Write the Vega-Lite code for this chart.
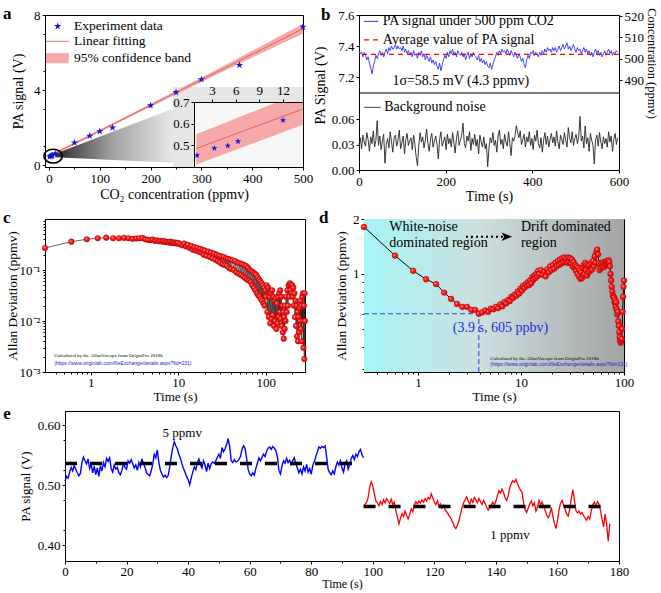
{
"$schema":"https://vega.github.io/schema/vega-lite/v6.json",
"background":"white",
"padding":{"left":2,"top":4,"right":0,"bottom":0},
"config":{"font":"Liberation Serif","view":{"stroke":"black","strokeWidth":1},
"axis":{"grid":false,"labelFont":"Liberation Serif","titleFont":"Liberation Serif","labelFontSize":13,"titleFontSize":14,"titleFontWeight":"normal","labelColor":"black","titleColor":"black","domainColor":"black","tickColor":"black","tickSize":3,"labelPadding":2,"titlePadding":3,"labelFlush":false},
"axisX":{"titleFontWeight":"normal","labelFont":"Liberation Serif","titleFont":"Liberation Serif"},
"axisY":{"titleFontWeight":"normal","labelFont":"Liberation Serif","titleFont":"Liberation Serif"},
"text":{"font":"Liberation Serif"}},
"datasets":{
"apts":[{"x":1.1,"y":0.455},{"x":3.3,"y":0.485},{"x":5,"y":0.497},{"x":6.3,"y":0.517},{"x":12,"y":0.615},{"x":50,"y":1.2},{"x":80,"y":1.56},{"x":100,"y":1.8},{"x":125,"y":2.0},{"x":200,"y":3.18},{"x":250,"y":3.88},{"x":300,"y":4.57},{"x":375,"y":5.33},{"x":500,"y":7.37}],
"aband":[{"x":0,"lo":0.4,"hi":0.54,"f":0.47},{"x":50,"lo":1.08,"hi":1.22,"f":1.15},{"x":100,"lo":1.76,"hi":1.9,"f":1.83},{"x":150,"lo":2.44,"hi":2.58,"f":2.51},{"x":200,"lo":3.11,"hi":3.27,"f":3.19},{"x":250,"lo":3.77,"hi":3.97,"f":3.87},{"x":300,"lo":4.43,"hi":4.67,"f":4.55},{"x":350,"lo":5.08,"hi":5.38,"f":5.23},{"x":400,"lo":5.73,"hi":6.09,"f":5.91},{"x":450,"lo":6.37,"hi":6.81,"f":6.59},{"x":500,"lo":7.0,"hi":7.54,"f":7.27}],
"bsig":[{"t":0,"v":7.37},{"t":3,"v":7.35},{"t":6,"v":7.36},{"t":9,"v":7.33},{"t":12,"v":7.36},{"t":15,"v":7.34},{"t":18,"v":7.31},{"t":21,"v":7.33},{"t":24,"v":7.29},{"t":27,"v":7.26},
{"t":30,"v":7.22},{"t":33,"v":7.27},{"t":36,"v":7.3},{"t":39,"v":7.34},{"t":42,"v":7.32},{"t":45,"v":7.35},{"t":48,"v":7.37},{"t":51,"v":7.34},{"t":54,"v":7.36},{"t":57,"v":7.33},
{"t":60,"v":7.36},{"t":63,"v":7.38},{"t":66,"v":7.35},{"t":69,"v":7.39},{"t":72,"v":7.37},{"t":75,"v":7.4},{"t":78,"v":7.38},{"t":81,"v":7.39},{"t":84,"v":7.41},{"t":87,"v":7.38},
{"t":90,"v":7.4},{"t":93,"v":7.38},{"t":96,"v":7.39},{"t":99,"v":7.37},{"t":102,"v":7.4},{"t":105,"v":7.36},{"t":108,"v":7.38},{"t":111,"v":7.35},{"t":114,"v":7.37},{"t":117,"v":7.34},
{"t":120,"v":7.36},{"t":123,"v":7.33},{"t":126,"v":7.37},{"t":129,"v":7.34},{"t":132,"v":7.35},{"t":135,"v":7.32},{"t":138,"v":7.36},{"t":141,"v":7.34},{"t":144,"v":7.37},{"t":147,"v":7.33},
{"t":150,"v":7.35},{"t":153,"v":7.31},{"t":156,"v":7.34},{"t":159,"v":7.32},{"t":162,"v":7.3},{"t":165,"v":7.33},{"t":168,"v":7.29},{"t":171,"v":7.31},{"t":174,"v":7.28},{"t":177,"v":7.3},
{"t":180,"v":7.27},{"t":183,"v":7.25},{"t":186,"v":7.29},{"t":189,"v":7.24},{"t":192,"v":7.28},{"t":195,"v":7.31},{"t":198,"v":7.34},{"t":201,"v":7.32},{"t":204,"v":7.36},{"t":207,"v":7.33},
{"t":210,"v":7.37},{"t":213,"v":7.35},{"t":216,"v":7.38},{"t":219,"v":7.34},{"t":222,"v":7.36},{"t":225,"v":7.33},{"t":228,"v":7.37},{"t":231,"v":7.35},{"t":234,"v":7.34},{"t":237,"v":7.36},
{"t":240,"v":7.33},{"t":243,"v":7.35},{"t":246,"v":7.31},{"t":249,"v":7.34},{"t":252,"v":7.36},{"t":255,"v":7.32},{"t":258,"v":7.35},{"t":261,"v":7.33},{"t":264,"v":7.36},{"t":267,"v":7.34},
{"t":270,"v":7.33},{"t":273,"v":7.31},{"t":276,"v":7.34},{"t":279,"v":7.3},{"t":282,"v":7.32},{"t":285,"v":7.29},{"t":288,"v":7.31},{"t":291,"v":7.28},{"t":294,"v":7.3},{"t":297,"v":7.27},
{"t":300,"v":7.26},{"t":303,"v":7.29},{"t":306,"v":7.25},{"t":309,"v":7.28},{"t":312,"v":7.31},{"t":315,"v":7.33},{"t":318,"v":7.36},{"t":321,"v":7.34},{"t":324,"v":7.37},{"t":327,"v":7.35},
{"t":330,"v":7.38},{"t":333,"v":7.36},{"t":336,"v":7.37},{"t":339,"v":7.35},{"t":342,"v":7.38},{"t":345,"v":7.36},{"t":348,"v":7.34},{"t":351,"v":7.37},{"t":354,"v":7.35},{"t":357,"v":7.33},
{"t":360,"v":7.36},{"t":363,"v":7.34},{"t":366,"v":7.32},{"t":369,"v":7.35},{"t":372,"v":7.33},{"t":375,"v":7.3},{"t":378,"v":7.32},{"t":381,"v":7.28},{"t":384,"v":7.26},{"t":387,"v":7.31},
{"t":390,"v":7.34},{"t":393,"v":7.32},{"t":396,"v":7.36},{"t":399,"v":7.35},{"t":402,"v":7.37},{"t":405,"v":7.34},{"t":408,"v":7.36},{"t":411,"v":7.35},{"t":414,"v":7.33},{"t":417,"v":7.36},
{"t":420,"v":7.34},{"t":423,"v":7.37},{"t":426,"v":7.35},{"t":429,"v":7.38},{"t":432,"v":7.36},{"t":435,"v":7.39},{"t":438,"v":7.37},{"t":441,"v":7.38},{"t":444,"v":7.36},{"t":447,"v":7.39},
{"t":450,"v":7.37},{"t":453,"v":7.39},{"t":456,"v":7.36},{"t":459,"v":7.38},{"t":462,"v":7.4},{"t":465,"v":7.37},{"t":468,"v":7.39},{"t":471,"v":7.41},{"t":474,"v":7.38},{"t":477,"v":7.4},
{"t":480,"v":7.42},{"t":483,"v":7.38},{"t":486,"v":7.4},{"t":489,"v":7.37},{"t":492,"v":7.39},{"t":495,"v":7.41},{"t":498,"v":7.38},{"t":501,"v":7.36},{"t":504,"v":7.39},{"t":507,"v":7.37},
{"t":510,"v":7.38},{"t":513,"v":7.35},{"t":516,"v":7.37},{"t":519,"v":7.39},{"t":522,"v":7.36},{"t":525,"v":7.38},{"t":528,"v":7.35},{"t":531,"v":7.37},{"t":534,"v":7.34},{"t":537,"v":7.36},
{"t":540,"v":7.33},{"t":543,"v":7.36},{"t":546,"v":7.38},{"t":549,"v":7.35},{"t":552,"v":7.37},{"t":555,"v":7.34},{"t":558,"v":7.36},{"t":561,"v":7.33},{"t":564,"v":7.35},{"t":567,"v":7.37},
{"t":570,"v":7.34},{"t":573,"v":7.36},{"t":576,"v":7.38},{"t":579,"v":7.35},{"t":582,"v":7.37},{"t":585,"v":7.34},{"t":588,"v":7.36},{"t":591,"v":7.35},{"t":594,"v":7.37},{"t":597,"v":7.36}],
"bnoise":[{"t":0,"v":0.03},{"t":3,"v":0.038},{"t":6,"v":0.025},{"t":9,"v":0.041},{"t":12,"v":0.033},{"t":15,"v":0.028},{"t":18,"v":0.044},{"t":21,"v":0.036},{"t":24,"v":0.022},{"t":27,"v":0.039},
{"t":30,"v":0.031},{"t":33,"v":0.046},{"t":36,"v":0.027},{"t":39,"v":0.035},{"t":42,"v":0.058},{"t":45,"v":0.029},{"t":48,"v":0.04},{"t":51,"v":0.024},{"t":54,"v":0.034},{"t":57,"v":0.042},
{"t":60,"v":0.008},{"t":63,"v":0.03},{"t":66,"v":0.037},{"t":69,"v":0.026},{"t":72,"v":0.045},{"t":75,"v":0.033},{"t":78,"v":0.021},{"t":81,"v":0.038},{"t":84,"v":0.041},{"t":87,"v":0.028},
{"t":90,"v":0.035},{"t":93,"v":0.047},{"t":96,"v":0.025},{"t":99,"v":0.032},{"t":102,"v":0.04},{"t":105,"v":0.019},{"t":108,"v":0.036},{"t":111,"v":0.043},{"t":114,"v":0.029},{"t":117,"v":0.034},
{"t":120,"v":0.038},{"t":123,"v":0.024},{"t":126,"v":0.041},{"t":129,"v":0.03},{"t":132,"v":0.015},{"t":135,"v":0.005},{"t":138,"v":0.029},{"t":141,"v":0.044},{"t":144,"v":0.033},{"t":147,"v":0.039},
{"t":150,"v":0.026},{"t":153,"v":0.035},{"t":156,"v":0.048},{"t":159,"v":0.031},{"t":162,"v":0.022},{"t":165,"v":0.037},{"t":168,"v":0.043},{"t":171,"v":0.027},{"t":174,"v":0.034},{"t":177,"v":0.04},
{"t":180,"v":0.03},{"t":183,"v":0.013},{"t":186,"v":0.036},{"t":189,"v":0.045},{"t":192,"v":0.028},{"t":195,"v":0.033},{"t":198,"v":0.039},{"t":201,"v":0.024},{"t":204,"v":0.042},{"t":207,"v":0.031},
{"t":210,"v":0.037},{"t":213,"v":0.027},{"t":216,"v":0.044},{"t":219,"v":0.032},{"t":222,"v":0.02},{"t":225,"v":0.038},{"t":228,"v":0.046},{"t":231,"v":0.029},{"t":234,"v":0.035},{"t":237,"v":0.041},
{"t":240,"v":0.055},{"t":243,"v":0.031},{"t":246,"v":0.026},{"t":249,"v":0.04},{"t":252,"v":0.034},{"t":255,"v":0.045},{"t":258,"v":0.023},{"t":261,"v":0.037},{"t":264,"v":0.03},{"t":267,"v":0.042},
{"t":270,"v":0.028},{"t":273,"v":0.036},{"t":276,"v":0.019},{"t":279,"v":0.041},{"t":282,"v":0.033},{"t":285,"v":0.027},{"t":288,"v":0.039},{"t":291,"v":0.025},{"t":294,"v":0.031},{"t":297,"v":0.004},
{"t":300,"v":0.026},{"t":303,"v":0.038},{"t":306,"v":0.032},{"t":309,"v":0.044},{"t":312,"v":0.029},{"t":315,"v":0.035},{"t":318,"v":0.021},{"t":321,"v":0.04},{"t":324,"v":0.047},{"t":327,"v":0.03},
{"t":330,"v":0.036},{"t":333,"v":0.025},{"t":336,"v":0.042},{"t":339,"v":0.033},{"t":342,"v":0.028},{"t":345,"v":0.045},{"t":348,"v":0.031},{"t":351,"v":0.017},{"t":354,"v":0.038},{"t":357,"v":0.034},
{"t":360,"v":0.04},{"t":363,"v":0.052},{"t":366,"v":0.044},{"t":369,"v":0.038},{"t":372,"v":0.046},{"t":375,"v":0.03},{"t":378,"v":0.036},{"t":381,"v":0.042},{"t":384,"v":0.027},{"t":387,"v":0.039},
{"t":390,"v":0.033},{"t":393,"v":0.045},{"t":396,"v":0.029},{"t":399,"v":0.037},{"t":402,"v":0.024},{"t":405,"v":0.041},{"t":408,"v":0.034},{"t":411,"v":0.047},{"t":414,"v":0.031},{"t":417,"v":0.026},
{"t":420,"v":0.038},{"t":423,"v":0.021},{"t":426,"v":0.035},{"t":429,"v":0.044},{"t":432,"v":0.03},{"t":435,"v":0.04},{"t":438,"v":0.027},{"t":441,"v":0.036},{"t":444,"v":0.043},{"t":447,"v":0.032},
{"t":450,"v":0.039},{"t":453,"v":0.028},{"t":456,"v":0.046},{"t":459,"v":0.033},{"t":462,"v":0.025},{"t":465,"v":0.041},{"t":468,"v":0.036},{"t":471,"v":0.03},{"t":474,"v":0.044},{"t":477,"v":0.035},
{"t":480,"v":0.027},{"t":483,"v":0.05},{"t":486,"v":0.038},{"t":489,"v":0.032},{"t":492,"v":0.045},{"t":495,"v":0.029},{"t":498,"v":0.037},{"t":501,"v":0.042},{"t":504,"v":0.031},{"t":507,"v":0.039},
{"t":510,"v":0.063},{"t":513,"v":0.034},{"t":516,"v":0.04},{"t":519,"v":0.026},{"t":522,"v":0.052},{"t":525,"v":0.031},{"t":528,"v":0.038},{"t":531,"v":0.022},{"t":534,"v":0.043},{"t":537,"v":0.035},
{"t":540,"v":0.029},{"t":543,"v":0.007},{"t":546,"v":0.036},{"t":549,"v":0.041},{"t":552,"v":0.028},{"t":555,"v":0.044},{"t":558,"v":0.033},{"t":561,"v":0.025},{"t":564,"v":0.039},{"t":567,"v":0.031},
{"t":570,"v":0.037},{"t":573,"v":0.027},{"t":576,"v":0.045},{"t":579,"v":0.033},{"t":582,"v":0.04},{"t":585,"v":0.022},{"t":588,"v":0.036},{"t":591,"v":0.043},{"t":594,"v":0.03},{"t":597,"v":0.038}],
"cdat":[{"tau":0.3,"ad":0.27},{"tau":0.6,"ad":0.36},{"tau":0.9,"ad":0.4},{"tau":1.2,"ad":0.42},{"tau":1.5,"ad":0.43},{"tau":1.8,"ad":0.42},{"tau":2.1,"ad":0.42},{"tau":2.4,"ad":0.425},{"tau":2.7,"ad":0.42},{"tau":3,"ad":0.41},{"tau":3.3,"ad":0.415},{"tau":3.6,"ad":0.42},{"tau":3.9,"ad":0.425},{"tau":4.2,"ad":0.4},{"tau":4.5,"ad":0.39},{"tau":4.8,"ad":0.385},{"tau":5.1,"ad":0.395},{"tau":5.4,"ad":0.37},{"tau":5.7,"ad":0.38},{"tau":6,"ad":0.365},{"tau":6.3,"ad":0.375},{"tau":6.6,"ad":0.36},{"tau":6.9,"ad":0.37},{"tau":7.2,"ad":0.35},{"tau":7.5,"ad":0.355},{"tau":7.8,"ad":0.345},{"tau":8.1,"ad":0.36},{"tau":8.4,"ad":0.34},{"tau":8.7,"ad":0.35},{"tau":9,"ad":0.335},{"tau":9.3,"ad":0.345},{"tau":9.6,"ad":0.33},{"tau":9.9,"ad":0.34},
{"tau":10.5,"ad":0.32},{"tau":11.1,"ad":0.305},{"tau":11.7,"ad":0.33},{"tau":12.3,"ad":0.29},{"tau":12.9,"ad":0.31},{"tau":13.5,"ad":0.27},{"tau":14.1,"ad":0.295},{"tau":14.7,"ad":0.25},{"tau":15.3,"ad":0.28},{"tau":15.9,"ad":0.24},{"tau":16.5,"ad":0.27},{"tau":17.1,"ad":0.23},{"tau":17.7,"ad":0.26},{"tau":18.3,"ad":0.22},{"tau":18.9,"ad":0.25},{"tau":19.5,"ad":0.2},{"tau":20.1,"ad":0.24},{"tau":21,"ad":0.19},{"tau":21.9,"ad":0.23},{"tau":22.8,"ad":0.18},{"tau":23.7,"ad":0.22},{"tau":24.6,"ad":0.17},{"tau":25.5,"ad":0.21},{"tau":26.4,"ad":0.16},{"tau":27.3,"ad":0.2},{"tau":28.2,"ad":0.15},{"tau":29.1,"ad":0.19},{"tau":30,"ad":0.14},{"tau":31,"ad":0.185},{"tau":32,"ad":0.13},{"tau":33,"ad":0.18},{"tau":34,"ad":0.125},{"tau":35,"ad":0.17},{"tau":36,"ad":0.12},{"tau":37,"ad":0.165},{"tau":38,"ad":0.11},{"tau":39,"ad":0.16},{"tau":40,"ad":0.105},{"tau":41.5,"ad":0.155},{"tau":43,"ad":0.1},{"tau":44.5,"ad":0.15},{"tau":46,"ad":0.09},{"tau":47.5,"ad":0.14},{"tau":49,"ad":0.085},{"tau":50.5,"ad":0.135},{"tau":52,"ad":0.08},{"tau":53.5,"ad":0.13},{"tau":55,"ad":0.075},{"tau":56.5,"ad":0.125},{"tau":58,"ad":0.07},{"tau":59.5,"ad":0.12},{"tau":61,"ad":0.065},{"tau":62.5,"ad":0.11},{"tau":64,"ad":0.062},{"tau":65.5,"ad":0.1},{"tau":67,"ad":0.058},{"tau":68.5,"ad":0.095},{"tau":70,"ad":0.05},{"tau":71.5,"ad":0.09},{"tau":73,"ad":0.045},{"tau":74.5,"ad":0.085},{"tau":76,"ad":0.04},{"tau":77.5,"ad":0.08},{"tau":79,"ad":0.035},{"tau":80.5,"ad":0.072},{"tau":82,"ad":0.032},{"tau":83.5,"ad":0.065},{"tau":85,"ad":0.03},{"tau":86.5,"ad":0.06},{"tau":88,"ad":0.027},{"tau":89.5,"ad":0.055},{"tau":91,"ad":0.025},{"tau":92.5,"ad":0.05},{"tau":94,"ad":0.022},{"tau":95.5,"ad":0.045},{"tau":97,"ad":0.02},{"tau":98.5,"ad":0.04},
{"tau":100,"ad":0.03},{"tau":102,"ad":0.05},{"tau":104,"ad":0.015},{"tau":106,"ad":0.045},{"tau":108,"ad":0.012},{"tau":110,"ad":0.03},{"tau":112,"ad":0.009},{"tau":114,"ad":0.035},{"tau":116,"ad":0.011},{"tau":118,"ad":0.04},{"tau":120,"ad":0.013},{"tau":122,"ad":0.03},{"tau":124,"ad":0.008},{"tau":126,"ad":0.025},{"tau":128,"ad":0.01},{"tau":130,"ad":0.028},{"tau":132,"ad":0.007},{"tau":134,"ad":0.022},{"tau":136,"ad":0.009},{"tau":138,"ad":0.03},{"tau":140,"ad":0.012},{"tau":142,"ad":0.035},{"tau":144,"ad":0.015},{"tau":146,"ad":0.04},{"tau":148,"ad":0.011},{"tau":150,"ad":0.03},{"tau":152,"ad":0.008},{"tau":154,"ad":0.02},{"tau":156,"ad":0.006},{"tau":158,"ad":0.015},{"tau":160,"ad":0.0045},{"tau":162,"ad":0.012},{"tau":164,"ad":0.007},{"tau":166,"ad":0.02},{"tau":168,"ad":0.01},{"tau":170,"ad":0.03},{"tau":173,"ad":0.015},{"tau":176,"ad":0.04},{"tau":179,"ad":0.02},{"tau":182,"ad":0.05},{"tau":185,"ad":0.03},{"tau":188,"ad":0.055},{"tau":191,"ad":0.04},{"tau":194,"ad":0.052},{"tau":197,"ad":0.035},{"tau":200,"ad":0.05},{"tau":203,"ad":0.03},{"tau":206,"ad":0.045},{"tau":209,"ad":0.02},{"tau":212,"ad":0.035},{"tau":215,"ad":0.012},{"tau":218,"ad":0.025},{"tau":221,"ad":0.008},{"tau":224,"ad":0.02},{"tau":227,"ad":0.005},{"tau":230,"ad":0.015},{"tau":233,"ad":0.004},{"tau":236,"ad":0.012},{"tau":239,"ad":0.006},{"tau":242,"ad":0.018},{"tau":245,"ad":0.01},{"tau":248,"ad":0.025},{"tau":251,"ad":0.007},{"tau":254,"ad":0.02},{"tau":257,"ad":0.004},{"tau":260,"ad":0.03},{"tau":263,"ad":0.01},{"tau":266,"ad":0.035},{"tau":269,"ad":0.003},{"tau":272,"ad":0.02},{"tau":275,"ad":0.0018},{"tau":277,"ad":0.035},{"tau":279,"ad":0.01}],
"ddat":[{"tau":0.3,"ad":1.81},{"tau":0.6,"ad":1.26},{"tau":0.9,"ad":1.04},{"tau":1.2,"ad":0.935},{"tau":1.5,"ad":0.88},{"tau":1.8,"ad":0.79},{"tau":2.1,"ad":0.73},{"tau":2.4,"ad":0.685},{"tau":2.7,"ad":0.66},{"tau":3,"ad":0.66},{"tau":3.3,"ad":0.635},{"tau":3.6,"ad":0.635},{"tau":3.9,"ad":0.605},{"tau":4.2,"ad":0.615},{"tau":4.5,"ad":0.63},{"tau":4.8,"ad":0.62},{"tau":5.1,"ad":0.645},{"tau":5.4,"ad":0.64},{"tau":5.7,"ad":0.66},{"tau":6,"ad":0.65},{"tau":6.3,"ad":0.68},{"tau":6.6,"ad":0.665},{"tau":6.9,"ad":0.7},{"tau":7.2,"ad":0.69},{"tau":7.5,"ad":0.72},{"tau":7.8,"ad":0.71},{"tau":8.1,"ad":0.75},{"tau":8.4,"ad":0.74},{"tau":8.7,"ad":0.77},{"tau":9,"ad":0.76},{"tau":9.3,"ad":0.8},{"tau":9.6,"ad":0.78},{"tau":9.9,"ad":0.83},{"tau":10.2,"ad":0.81},{"tau":10.5,"ad":0.86},{"tau":10.8,"ad":0.84},{"tau":11.1,"ad":0.88},{"tau":11.4,"ad":0.86},{"tau":11.7,"ad":0.9},{"tau":12,"ad":0.87},{"tau":12.3,"ad":0.92},{"tau":12.6,"ad":0.89},{"tau":12.9,"ad":0.96},{"tau":13.2,"ad":0.93},{"tau":13.5,"ad":0.98},{"tau":13.8,"ad":0.95},{"tau":14.1,"ad":1.0},{"tau":14.4,"ad":0.97},{"tau":14.7,"ad":1.04},{"tau":15,"ad":1.0},{"tau":15.6,"ad":1.05},{"tau":16.2,"ad":0.99},{"tau":16.8,"ad":1.03},{"tau":17.4,"ad":0.97},{"tau":18,"ad":1.06},{"tau":18.6,"ad":1.02},{"tau":19.2,"ad":1.1},{"tau":19.8,"ad":1.05},{"tau":20.4,"ad":1.12},{"tau":21,"ad":1.07},{"tau":21.6,"ad":1.15},{"tau":22.2,"ad":1.1},{"tau":22.8,"ad":1.18},{"tau":23.4,"ad":1.12},{"tau":24,"ad":1.2},{"tau":24.6,"ad":1.14},{"tau":25.2,"ad":1.22},{"tau":25.8,"ad":1.16},{"tau":26.4,"ad":1.23},{"tau":27,"ad":1.18},{"tau":27.6,"ad":1.21},{"tau":28.2,"ad":1.15},{"tau":28.8,"ad":1.23},{"tau":29.4,"ad":1.17},{"tau":30,"ad":1.22},{"tau":30.6,"ad":1.14},{"tau":31.2,"ad":1.2},{"tau":31.8,"ad":1.1},{"tau":32.4,"ad":1.16},{"tau":33,"ad":1.08},{"tau":33.6,"ad":1.12},{"tau":34.2,"ad":1.04},{"tau":34.8,"ad":1.1},{"tau":35.4,"ad":1.0},{"tau":36,"ad":1.08},{"tau":36.6,"ad":0.97},{"tau":37.2,"ad":1.05},{"tau":37.8,"ad":0.94},{"tau":38.4,"ad":1.02},{"tau":39,"ad":0.95},{"tau":39.6,"ad":1.08},{"tau":40.2,"ad":0.98},{"tau":40.8,"ad":1.12},{"tau":41.4,"ad":1.0},{"tau":42,"ad":1.15},{"tau":42.6,"ad":1.05},{"tau":43.2,"ad":1.12},{"tau":43.8,"ad":0.98},{"tau":44.4,"ad":1.1},{"tau":45,"ad":1.02},{"tau":46,"ad":1.12},{"tau":47,"ad":1.04},{"tau":48,"ad":1.15},{"tau":49,"ad":1.06},{"tau":50,"ad":1.18},{"tau":51,"ad":1.1},{"tau":52,"ad":1.25},{"tau":53,"ad":1.15},{"tau":54,"ad":1.32},{"tau":55,"ad":1.36},{"tau":56,"ad":1.28},{"tau":57,"ad":1.15},{"tau":58,"ad":1.05},{"tau":59,"ad":1.12},{"tau":60,"ad":1.08},{"tau":61,"ad":1.14},{"tau":62,"ad":1.1},{"tau":63,"ad":1.16},{"tau":64,"ad":1.09},{"tau":65,"ad":1.15},{"tau":66,"ad":1.12},{"tau":67,"ad":1.17},{"tau":68,"ad":1.13},{"tau":69,"ad":1.18},{"tau":70,"ad":1.15},{"tau":71,"ad":1.19},{"tau":72,"ad":1.16},{"tau":73,"ad":1.1},{"tau":74,"ad":1.0},{"tau":75,"ad":0.92},{"tau":76,"ad":0.85},{"tau":77,"ad":0.8},{"tau":78,"ad":0.76},{"tau":79,"ad":0.75},{"tau":80,"ad":0.74},{"tau":81,"ad":0.7},{"tau":82,"ad":0.72},{"tau":83,"ad":0.66},{"tau":84,"ad":0.7},{"tau":85,"ad":0.64},{"tau":86,"ad":0.6},{"tau":87,"ad":0.62},{"tau":88,"ad":0.55},{"tau":89,"ad":0.52},{"tau":90,"ad":0.48},{"tau":91,"ad":0.45},{"tau":92,"ad":0.43},{"tau":93,"ad":0.42},{"tau":94,"ad":0.43},{"tau":95,"ad":0.44},{"tau":96,"ad":0.5},{"tau":97,"ad":0.62},{"tau":98,"ad":0.75},{"tau":99,"ad":0.85},{"tau":100,"ad":0.92}],
"eblue":[{"t":0,"v":0.507},{"t":0.5,"v":0.515},{"t":1,"v":0.512},{"t":1.5,"v":0.522},{"t":2,"v":0.53},{"t":2.5,"v":0.524},{"t":3,"v":0.533},{"t":3.5,"v":0.527},{"t":4,"v":0.521},{"t":4.5,"v":0.516},{"t":5,"v":0.52},{"t":5.5,"v":0.538},{"t":6,"v":0.547},{"t":6.5,"v":0.541},{"t":7,"v":0.536},{"t":7.5,"v":0.544},{"t":8,"v":0.528},{"t":8.5,"v":0.535},{"t":9,"v":0.521},{"t":9.5,"v":0.532},{"t":10,"v":0.518},{"t":10.5,"v":0.529},{"t":11,"v":0.515},{"t":11.5,"v":0.533},{"t":12,"v":0.524},{"t":12.5,"v":0.538},{"t":13,"v":0.531},{"t":13.5,"v":0.545},{"t":14,"v":0.54},{"t":14.5,"v":0.546},{"t":15,"v":0.528},{"t":15.5,"v":0.522},{"t":16,"v":0.534},{"t":16.5,"v":0.527},{"t":17,"v":0.53},{"t":17.5,"v":0.521},{"t":18,"v":0.518},{"t":18.5,"v":0.525},{"t":19,"v":0.536},{"t":19.5,"v":0.53},{"t":20,"v":0.527},{"t":20.5,"v":0.541},{"t":21,"v":0.537},{"t":21.5,"v":0.543},{"t":22,"v":0.536},{"t":22.5,"v":0.529},{"t":23,"v":0.534},{"t":23.5,"v":0.525},{"t":24,"v":0.538},{"t":24.5,"v":0.531},{"t":25,"v":0.544},{"t":25.5,"v":0.536},{"t":26,"v":0.53},{"t":26.5,"v":0.521},{"t":27,"v":0.518},{"t":27.5,"v":0.516},{"t":28,"v":0.524},{"t":28.5,"v":0.535},{"t":29,"v":0.552},{"t":29.5,"v":0.546},{"t":30,"v":0.559},{"t":30.5,"v":0.538},{"t":31,"v":0.525},{"t":31.5,"v":0.519},{"t":32,"v":0.514},{"t":32.5,"v":0.517},{"t":33,"v":0.513},{"t":33.5,"v":0.516},{"t":34,"v":0.53},{"t":34.5,"v":0.548},{"t":35,"v":0.562},{"t":35.5,"v":0.573},{"t":36,"v":0.566},{"t":36.5,"v":0.561},{"t":37,"v":0.552},{"t":37.5,"v":0.545},{"t":38,"v":0.536},{"t":38.5,"v":0.528},{"t":39,"v":0.522},{"t":39.5,"v":0.515},{"t":40,"v":0.51},{"t":40.5,"v":0.501},{"t":41,"v":0.512},{"t":41.5,"v":0.522},{"t":42,"v":0.531},{"t":42.5,"v":0.526},{"t":43,"v":0.538},{"t":43.5,"v":0.544},{"t":44,"v":0.535},{"t":44.5,"v":0.529},{"t":45,"v":0.541},{"t":45.5,"v":0.534},{"t":46,"v":0.523},{"t":46.5,"v":0.537},{"t":47,"v":0.528},{"t":47.5,"v":0.536},{"t":48,"v":0.539},{"t":48.5,"v":0.537},{"t":49,"v":0.541},{"t":49.5,"v":0.547},{"t":50,"v":0.552},{"t":50.5,"v":0.545},{"t":51,"v":0.563},{"t":51.5,"v":0.556},{"t":52,"v":0.561},{"t":52.5,"v":0.568},{"t":53,"v":0.578},{"t":53.5,"v":0.565},{"t":54,"v":0.541},{"t":54.5,"v":0.538},{"t":55,"v":0.543},{"t":55.5,"v":0.539},{"t":56,"v":0.54},{"t":56.5,"v":0.543},{"t":57,"v":0.548},{"t":57.5,"v":0.56},{"t":58,"v":0.566},{"t":58.5,"v":0.562},{"t":59,"v":0.545},{"t":59.5,"v":0.527},{"t":60,"v":0.519},{"t":60.5,"v":0.516},{"t":61,"v":0.521},{"t":61.5,"v":0.517},{"t":62,"v":0.528},{"t":62.5,"v":0.537},{"t":63,"v":0.546},{"t":63.5,"v":0.541},{"t":64,"v":0.547},{"t":64.5,"v":0.552},{"t":65,"v":0.548},{"t":65.5,"v":0.557},{"t":66,"v":0.562},{"t":66.5,"v":0.564},{"t":67,"v":0.56},{"t":67.5,"v":0.565},{"t":68,"v":0.562},{"t":68.5,"v":0.558},{"t":69,"v":0.548},{"t":69.5,"v":0.525},{"t":70,"v":0.519},{"t":70.5,"v":0.532},{"t":71,"v":0.541},{"t":71.5,"v":0.537},{"t":72,"v":0.545},{"t":72.5,"v":0.538},{"t":73,"v":0.542},{"t":73.5,"v":0.535},{"t":74,"v":0.541},{"t":74.5,"v":0.546},{"t":75,"v":0.536},{"t":75.5,"v":0.529},{"t":76,"v":0.521},{"t":76.5,"v":0.527},{"t":77,"v":0.519},{"t":77.5,"v":0.531},{"t":78,"v":0.524},{"t":78.5,"v":0.535},{"t":79,"v":0.522},{"t":79.5,"v":0.528},{"t":80,"v":0.519},{"t":80.5,"v":0.533},{"t":81,"v":0.54},{"t":81.5,"v":0.548},{"t":82,"v":0.556},{"t":82.5,"v":0.564},{"t":83,"v":0.562},{"t":83.5,"v":0.565},{"t":84,"v":0.563},{"t":84.5,"v":0.566},{"t":85,"v":0.548},{"t":85.5,"v":0.527},{"t":86,"v":0.521},{"t":86.5,"v":0.518},{"t":87,"v":0.524},{"t":87.5,"v":0.519},{"t":88,"v":0.531},{"t":88.5,"v":0.539},{"t":89,"v":0.534},{"t":89.5,"v":0.541},{"t":90,"v":0.529},{"t":90.5,"v":0.522},{"t":91,"v":0.536},{"t":91.5,"v":0.541},{"t":92,"v":0.527},{"t":92.5,"v":0.534},{"t":93,"v":0.545},{"t":93.5,"v":0.55},{"t":94,"v":0.543},{"t":94.5,"v":0.552},{"t":95,"v":0.548},{"t":95.5,"v":0.556},{"t":96,"v":0.56},{"t":96.5,"v":0.551},{"t":97,"v":0.546}],
"ered":[{"t":97,"v":0.466},{"t":97.5,"v":0.468},{"t":98,"v":0.472},{"t":98.5,"v":0.48},{"t":99,"v":0.497},{"t":99.5,"v":0.506},{"t":100,"v":0.499},{"t":100.5,"v":0.486},{"t":101,"v":0.474},{"t":101.5,"v":0.471},{"t":102,"v":0.466},{"t":102.5,"v":0.473},{"t":103,"v":0.468},{"t":103.5,"v":0.476},{"t":104,"v":0.471},{"t":104.5,"v":0.478},{"t":105,"v":0.474},{"t":105.5,"v":0.47},{"t":106,"v":0.477},{"t":106.5,"v":0.468},{"t":107,"v":0.472},{"t":107.5,"v":0.458},{"t":108,"v":0.447},{"t":108.5,"v":0.436},{"t":109,"v":0.445},{"t":109.5,"v":0.453},{"t":110,"v":0.448},{"t":110.5,"v":0.457},{"t":111,"v":0.45},{"t":111.5,"v":0.444},{"t":112,"v":0.452},{"t":112.5,"v":0.461},{"t":113,"v":0.456},{"t":113.5,"v":0.468},{"t":114,"v":0.473},{"t":114.5,"v":0.469},{"t":115,"v":0.474},{"t":115.5,"v":0.471},{"t":116,"v":0.476},{"t":116.5,"v":0.472},{"t":117,"v":0.478},{"t":117.5,"v":0.474},{"t":118,"v":0.48},{"t":118.5,"v":0.477},{"t":119,"v":0.486},{"t":119.5,"v":0.479},{"t":120,"v":0.472},{"t":120.5,"v":0.468},{"t":121,"v":0.474},{"t":121.5,"v":0.465},{"t":122,"v":0.469},{"t":122.5,"v":0.462},{"t":123,"v":0.467},{"t":123.5,"v":0.46},{"t":124,"v":0.456},{"t":124.5,"v":0.452},{"t":125,"v":0.448},{"t":125.5,"v":0.444},{"t":126,"v":0.438},{"t":126.5,"v":0.431},{"t":127,"v":0.428},{"t":127.5,"v":0.434},{"t":128,"v":0.441},{"t":128.5,"v":0.452},{"t":129,"v":0.463},{"t":129.5,"v":0.471},{"t":130,"v":0.476},{"t":130.5,"v":0.481},{"t":131,"v":0.474},{"t":131.5,"v":0.469},{"t":132,"v":0.477},{"t":132.5,"v":0.472},{"t":133,"v":0.48},{"t":133.5,"v":0.476},{"t":134,"v":0.471},{"t":134.5,"v":0.478},{"t":135,"v":0.473},{"t":135.5,"v":0.468},{"t":136,"v":0.475},{"t":136.5,"v":0.47},{"t":137,"v":0.464},{"t":137.5,"v":0.459},{"t":138,"v":0.462},{"t":138.5,"v":0.468},{"t":139,"v":0.472},{"t":139.5,"v":0.467},{"t":140,"v":0.474},{"t":140.5,"v":0.483},{"t":141,"v":0.491},{"t":141.5,"v":0.487},{"t":142,"v":0.494},{"t":142.5,"v":0.488},{"t":143,"v":0.479},{"t":143.5,"v":0.475},{"t":144,"v":0.483},{"t":144.5,"v":0.496},{"t":145,"v":0.503},{"t":145.5,"v":0.508},{"t":146,"v":0.505},{"t":146.5,"v":0.51},{"t":147,"v":0.503},{"t":147.5,"v":0.497},{"t":148,"v":0.492},{"t":148.5,"v":0.488},{"t":149,"v":0.471},{"t":149.5,"v":0.46},{"t":150,"v":0.455},{"t":150.5,"v":0.462},{"t":151,"v":0.469},{"t":151.5,"v":0.474},{"t":152,"v":0.466},{"t":152.5,"v":0.471},{"t":153,"v":0.457},{"t":153.5,"v":0.463},{"t":154,"v":0.475},{"t":154.5,"v":0.468},{"t":155,"v":0.472},{"t":155.5,"v":0.466},{"t":156,"v":0.458},{"t":156.5,"v":0.451},{"t":157,"v":0.446},{"t":157.5,"v":0.452},{"t":158,"v":0.463},{"t":158.5,"v":0.449},{"t":159,"v":0.437},{"t":159.5,"v":0.428},{"t":160,"v":0.441},{"t":160.5,"v":0.459},{"t":161,"v":0.47},{"t":161.5,"v":0.475},{"t":162,"v":0.467},{"t":162.5,"v":0.46},{"t":163,"v":0.452},{"t":163.5,"v":0.449},{"t":164,"v":0.461},{"t":164.5,"v":0.478},{"t":165,"v":0.493},{"t":165.5,"v":0.476},{"t":166,"v":0.458},{"t":166.5,"v":0.454},{"t":167,"v":0.457},{"t":167.5,"v":0.452},{"t":168,"v":0.455},{"t":168.5,"v":0.449},{"t":169,"v":0.446},{"t":169.5,"v":0.442},{"t":170,"v":0.448},{"t":170.5,"v":0.444},{"t":171,"v":0.458},{"t":171.5,"v":0.468},{"t":172,"v":0.472},{"t":172.5,"v":0.466},{"t":173,"v":0.473},{"t":173.5,"v":0.469},{"t":174,"v":0.458},{"t":174.5,"v":0.443},{"t":175,"v":0.431},{"t":175.5,"v":0.452},{"t":176,"v":0.435},{"t":176.5,"v":0.407},{"t":177,"v":0.436}]
},
"vconcat":[
{"vconcat":[
{"hconcat":[
{"width":258,"height":152,
"layer":[
{"layer":[
{"data":{"values":[{"x":244,"x2":500,"y":-0.1,"y2":4.16}]},"mark":{"type":"rect","color":"#e6e6e6"},"encoding":{"x":{"field":"x","type":"quantitative","scale":{"domain":[-8,500],"nice":false,"zero":false},"axis":{"title":"CO₂ concentration (ppmv)","values":[0,100,200,300,400,500],"titlePadding":2,"titleFontWeight":"normal"}},"x2":{"field":"x2"},"y":{"field":"y","type":"quantitative","scale":{"domain":[-0.1,8],"nice":false,"zero":false},"axis":{"title":"PA signal (V)","values":[0,2,4,6,8],"titlePadding":8,"titleFontWeight":"normal"}},"y2":{"field":"y2"}}},
{"data":{"values":[{"x":285,"x2":500,"y":-0.1,"y2":3.36}]},"mark":{"type":"rect","color":"#f7f7f7"},"encoding":{"x":{"field":"x","type":"quantitative"},"x2":{"field":"x2"},"y":{"field":"y","type":"quantitative"},"y2":{"field":"y2"}}},
{"data":{"values":[{"x":12,"lo":0.42,"hi":0.6},{"x":244,"lo":0.12,"hi":3.0}]},"mark":{"type":"area","color":{"gradient":"linear","x1":0,"y1":0,"x2":1,"y2":0,"stops":[{"offset":0,"color":"#2b2b2b"},{"offset":0.5,"color":"#a5a5a5"},{"offset":1,"color":"#e6e6e6"}]}},"encoding":{"x":{"field":"x","type":"quantitative"},"y":{"field":"lo","type":"quantitative"},"y2":{"field":"hi"}}},
{"data":{"name":"aband"},"mark":{"type":"area","color":"#f6a9a9"},"encoding":{"x":{"field":"x","type":"quantitative"},"y":{"field":"lo","type":"quantitative"},"y2":{"field":"hi"}}},
{"data":{"name":"aband"},"mark":{"type":"line","color":"#d9534f","strokeWidth":0.8},"encoding":{"x":{"field":"x","type":"quantitative"},"y":{"field":"f","type":"quantitative"}}},
{"data":{"name":"apts"},"mark":{"type":"point","shape":"M0,-1L0.2245,-0.309L0.9511,-0.309L0.3633,0.118L0.5878,0.809L0,0.382L-0.5878,0.809L-0.3633,0.118L-0.9511,-0.309L-0.2245,-0.309Z","filled":true,"color":"#1515e0","size":60,"opacity":1},"encoding":{"x":{"field":"x","type":"quantitative"},"y":{"field":"y","type":"quantitative"}}},
{"data":{"values":[{"x":8,"y":0.48}]},"mark":{"type":"point","shape":"M-1,0A1,0.75,0,1,0,1,0A1,0.75,0,1,0,-1,0Z","filled":false,"color":"black","strokeWidth":1.6,"size":340,"opacity":1},"encoding":{"x":{"field":"x","type":"quantitative"},"y":{"field":"y","type":"quantitative"}}},
{"data":{"values":[{"x":17,"y":7.4}]},"mark":{"type":"point","shape":"M0,-1L0.2245,-0.309L0.9511,-0.309L0.3633,0.118L0.5878,0.809L0,0.382L-0.5878,0.809L-0.3633,0.118L-0.9511,-0.309L-0.2245,-0.309Z","filled":true,"color":"#1515e0","size":60,"opacity":1},"encoding":{"x":{"field":"x","type":"quantitative"},"y":{"field":"y","type":"quantitative"}}},
{"data":{"values":[{"x":-6,"x2":39,"y":6.6}]},"mark":{"type":"rule","color":"#d9534f","strokeWidth":0.8},"encoding":{"x":{"field":"x","type":"quantitative"},"x2":{"field":"x2"},"y":{"field":"y","type":"quantitative"}}},
{"data":{"values":[{"x":-6,"x2":39,"y":5.43,"y2":5.97}]},"mark":{"type":"rect","color":"#f6a9a9"},"encoding":{"x":{"field":"x","type":"quantitative"},"x2":{"field":"x2"},"y":{"field":"y","type":"quantitative"},"y2":{"field":"y2"}}},
{"data":{"values":[{"x":49,"y":7.4,"s":"Experiment data"},{"x":49,"y":6.6,"s":"Linear fitting"},{"x":49,"y":5.7,"s":"95% confidence band"}]},"mark":{"type":"text","align":"left","baseline":"middle","fontSize":13.5},"encoding":{"x":{"field":"x","type":"quantitative"},"y":{"field":"y","type":"quantitative"},"text":{"field":"s"}}},
{"data":{"values":[{"x":-90.7,"y":8.06,"s":"a"}]},"mark":{"type":"text","align":"left","baseline":"middle","fontSize":17,"fontWeight":"bold"},"encoding":{"x":{"field":"x","type":"quantitative"},"y":{"field":"y","type":"quantitative"},"text":{"field":"s"}}}
]},
{"layer":[
{"data":{"values":[{"ix":1,"lo":0.41,"hi":0.55},{"ix":11.3,"lo":0.55,"hi":0.7},{"ix":14.5,"lo":0.594,"hi":0.7}]},"mark":{"type":"area","color":"#f6a9a9"},"encoding":{"x":{"field":"ix","type":"quantitative","scale":{"domain":[0.72,14.53],"range":[149,258],"nice":false,"zero":false},"axis":{"orient":"top","offset":-87,"values":[3,6,9,12],"title":null,"zindex":1}},"y":{"field":"lo","type":"quantitative","scale":{"domain":[0.398,0.7],"range":[152,87],"nice":false,"zero":false},"axis":{"orient":"left","offset":-149,"values":[0.5,0.6,0.7],"format":".1f","title":null,"zindex":1}},"y2":{"field":"hi"}}},
{"data":{"values":[{"ix":1,"f":0.484},{"ix":14.5,"f":0.667}]},"mark":{"type":"line","color":"#d9534f","strokeWidth":0.8},"encoding":{"x":{"field":"ix","type":"quantitative"},"y":{"field":"f","type":"quantitative"}}},
{"data":{"values":[{"ix":1.1,"f":0.452},{"ix":3.3,"f":0.485},{"ix":5,"f":0.497},{"ix":6.3,"f":0.517},{"ix":12,"f":0.615}]},"mark":{"type":"point","shape":"M0,-1L0.2245,-0.309L0.9511,-0.309L0.3633,0.118L0.5878,0.809L0,0.382L-0.5878,0.809L-0.3633,0.118L-0.9511,-0.309L-0.2245,-0.309Z","filled":true,"color":"#1515e0","size":45,"opacity":1},"encoding":{"x":{"field":"ix","type":"quantitative"},"y":{"field":"f","type":"quantitative"}}}
]},
{"data":{"values":[{"mx":100,"my":4}]},"mark":{"type":"point","opacity":0},"encoding":{"x":{"field":"mx","type":"quantitative","scale":{"domain":[-8,500],"nice":false,"zero":false},"axis":{"orient":"bottom","values":[50,150,250,350,450],"labels":false,"domain":false,"tickSize":2,"title":null}},"y":{"field":"my","type":"quantitative","scale":{"domain":[-0.1,8],"nice":false,"zero":false},"axis":{"orient":"left","values":[1,3,5,7],"labels":false,"domain":false,"tickSize":2,"title":null}}}}
],
"resolve":{"scale":{"x":"independent","y":"independent"}}},
{"width":260,"height":155,
"layer":[
{"layer":[
{"data":{"name":"bsig"},"mark":{"type":"line","color":"#2f2fff","strokeWidth":0.9},"encoding":{"x":{"field":"t","type":"quantitative","scale":{"domain":[0,600],"nice":false},"axis":{"title":"Time (s)","values":[0,200,400,600],"titlePadding":1,"titleFontWeight":"normal"}},"y":{"field":"v","type":"quantitative","scale":{"domain":[7.097,7.6],"range":[78,0],"nice":false,"zero":false},"axis":{"title":"PA Signal (V)","values":[7.2,7.4,7.6],"format":".1f","titleY":70,"titlePadding":10,"titleFontWeight":"normal"}}}},
{"data":{"values":[{"y":7.097}]},"mark":{"type":"rule","color":"black","strokeWidth":1.2},"encoding":{"y":{"field":"y","type":"quantitative"}}},
{"data":{"values":[{"x":11.5,"x2":44,"y":7.559}]},"mark":{"type":"rule","color":"#2f2fff","strokeWidth":1},"encoding":{"x":{"field":"x","type":"quantitative"},"x2":{"field":"x2"},"y":{"field":"y","type":"quantitative"}}},
{"data":{"values":[{"x":11.5,"x2":44,"y":7.44}]},"mark":{"type":"rule","color":"red","strokeWidth":1.3,"strokeDash":[5,4]},"encoding":{"x":{"field":"x","type":"quantitative"},"x2":{"field":"x2"},"y":{"field":"y","type":"quantitative"}}},
{"data":{"values":[{"x":55,"y":7.559,"s":"PA signal under 500 ppm CO2"},{"x":55,"y":7.44,"s":"Average value of PA signal"}]},"mark":{"type":"text","align":"left","baseline":"middle","fontSize":14},"encoding":{"x":{"field":"x","type":"quantitative"},"y":{"field":"y","type":"quantitative"},"text":{"field":"s"}}},
{"data":{"values":[{"x":235,"y":7.172,"s":"1σ=58.5 mV (4.3 ppmv)"}]},"mark":{"type":"text","align":"center","baseline":"middle","fontSize":14},"encoding":{"x":{"field":"x","type":"quantitative"},"y":{"field":"y","type":"quantitative"},"text":{"field":"s"}}},
{"data":{"values":[{"x":-87.7,"y":7.6,"s":"b"}]},"mark":{"type":"text","align":"left","baseline":"middle","fontSize":17,"fontWeight":"bold"},"encoding":{"x":{"field":"x","type":"quantitative"},"y":{"field":"y","type":"quantitative"},"text":{"field":"s"}}}
]},
{"layer":[
{"data":{"values":[{"c":502}]},"mark":{"type":"rule","color":"red","strokeWidth":1.2,"strokeDash":[5,4]},"encoding":{"y":{"field":"c","type":"quantitative","scale":{"domain":[483.9,520.5],"range":[78,0],"nice":false,"zero":false},"axis":{"orient":"right","title":"Concentration (ppmv)","values":[490,500,510,520],"titleY":48,"titleFontSize":12.5,"titlePadding":1,"titleFontWeight":"normal"}}}}
]},
{"layer":[
{"data":{"name":"bnoise"},"mark":{"type":"line","color":"#222222","strokeWidth":0.9},"encoding":{"x":{"field":"t","type":"quantitative"},"y":{"field":"v","type":"quantitative","scale":{"domain":[0,0.0906],"range":[155,78],"nice":false,"zero":false},"axis":{"orient":"left","title":null,"values":[0,0.03,0.06],"format":".2f"}}}},
{"data":{"values":[{"x":11.5,"x2":50,"y":0.0737}]},"mark":{"type":"rule","color":"#444444","strokeWidth":1},"encoding":{"x":{"field":"x","type":"quantitative"},"x2":{"field":"x2"},"y":{"field":"y","type":"quantitative"}}},
{"data":{"values":[{"x":58,"y":0.0737,"s":"Background noise"}]},"mark":{"type":"text","align":"left","baseline":"middle","fontSize":14},"encoding":{"x":{"field":"x","type":"quantitative"},"y":{"field":"y","type":"quantitative"},"text":{"field":"s"}}}
]}
],
"resolve":{"scale":{"y":"independent"}}}
],"spacing":56,"bounds":"flush"},
{"hconcat":[
{"width":260,"height":153,
"layer":[
{"layer":[
{"data":{"name":"cdat"},"mark":{"type":"line","color":"black","strokeWidth":0.6},"encoding":{"x":{"field":"tau","type":"quantitative","scale":{"type":"log","domain":[0.3,280],"nice":false},"axis":{"title":"Time (s)","values":[1,10,100],"format":"d","titlePadding":1,"labelPadding":1,"labelFontSize":13,"titleFontSize":13,"titleFontWeight":"normal"}},"y":{"field":"ad","type":"quantitative","scale":{"type":"log","domain":[0.001,1],"nice":false},"axis":{"title":"Allan Deviation (ppmv)","values":[0.001,0.01,0.1],"labelExpr":"datum.value < 0.005 ? '10⁻³' : datum.value < 0.05 ? '10⁻²' : '10⁻¹'","titlePadding":0,"titleFontSize":13.5,"labelFontSize":13,"titleFontWeight":"normal"}}}},
{"data":{"name":"cdat"},"mark":{"type":"point","filled":true,"fill":{"gradient":"radial","x1":0.35,"y1":0.35,"r1":0,"x2":0.5,"y2":0.5,"r2":0.55,"stops":[{"offset":0,"color":"#ffe0e0"},{"offset":0.35,"color":"#ff2a2a"},{"offset":1,"color":"#d00000"}]},"stroke":"#b00000","strokeWidth":0.4,"size":32,"opacity":1},"encoding":{"x":{"field":"tau","type":"quantitative","scale":{"type":"log","domain":[0.3,280],"nice":false}},"y":{"field":"ad","type":"quantitative","scale":{"type":"log","domain":[0.001,1],"nice":false}}}},
{"data":{"values":[{"x":0.383,"y":0.00215,"s":"Calculated by the AllanVar.opx from OriginPro 2018b"}]},"mark":{"type":"text","align":"left","baseline":"middle","fontSize":5,"color":"black"},"encoding":{"x":{"field":"x","type":"quantitative","scale":{"type":"log","domain":[0.3,280],"nice":false}},"y":{"field":"y","type":"quantitative","scale":{"type":"log","domain":[0.001,1],"nice":false}},"text":{"field":"s"}}},
{"data":{"values":[{"x":0.383,"y":0.00148,"s":"(https://www.originlab.com/fileExchange/details.aspx?fid=231)"}]},"mark":{"type":"text","align":"left","baseline":"middle","fontSize":5,"font":"Liberation Sans","color":"#2020d0"},"encoding":{"x":{"field":"x","type":"quantitative","scale":{"type":"log","domain":[0.3,280],"nice":false}},"y":{"field":"y","type":"quantitative","scale":{"type":"log","domain":[0.001,1],"nice":false}},"text":{"field":"s"}}},
{"data":{"values":[{"x":0.0993,"y":1.046,"s":"c"}]},"mark":{"type":"text","align":"left","baseline":"middle","fontSize":17,"fontWeight":"bold"},"encoding":{"x":{"field":"x","type":"quantitative","scale":{"type":"log","domain":[0.3,280],"nice":false}},"y":{"field":"y","type":"quantitative","scale":{"type":"log","domain":[0.001,1],"nice":false}},"text":{"field":"s"}}}
]},
{"data":{"values":[{"mx":1,"my":0.1}]},"mark":{"type":"point","opacity":0},"encoding":{"x":{"field":"mx","type":"quantitative","scale":{"type":"log","domain":[0.3,280],"nice":false},"axis":{"orient":"bottom","values":[0.4,0.5,0.6,0.7,0.8,0.9,2,3,4,5,6,7,8,9,20,30,40,50,60,70,80,90,200],"labels":false,"domain":false,"tickSize":2,"title":null}},"y":{"field":"my","type":"quantitative","scale":{"type":"log","domain":[0.001,1],"nice":false},"axis":{"orient":"left","values":[0.002,0.003,0.004,0.005,0.006,0.007,0.008,0.009,0.02,0.03,0.04,0.05,0.06,0.07,0.08,0.09,0.2,0.3,0.4,0.5,0.6,0.7,0.8,0.9],"labels":false,"domain":false,"tickSize":2,"title":null}}}}
],
"resolve":{"axis":{"x":"independent","y":"independent"}}},
{"width":260,"height":153,
"layer":[
{"layer":[
{"data":{"values":[{"x":0.3,"x2":100,"y":0.29,"y2":2}]},"mark":{"type":"rect","color":{"gradient":"linear","x1":0,"y1":0,"x2":1,"y2":0,"stops":[{"offset":0,"color":"#a6f6f6"},{"offset":0.45,"color":"#cddfdf"},{"offset":1,"color":"#a4a4a4"}]}},"encoding":{"x":{"field":"x","type":"quantitative","scale":{"type":"log","domain":[0.3,100],"nice":false},"axis":{"title":"Time (s)","values":[1,10,100],"format":"d","titlePadding":1,"labelPadding":1,"labelFontSize":13,"titleFontSize":13,"titleFontWeight":"normal"}},"x2":{"field":"x2"},"y":{"field":"y","type":"quantitative","scale":{"type":"log","domain":[0.29,2],"nice":false},"axis":{"title":"Allan Deviation (ppmv)","values":[1,2],"format":"d","titlePadding":4,"titleFontSize":13.5,"labelFontSize":13,"titleFontWeight":"normal"}},"y2":{"field":"y2"}}},
{"data":{"values":[{"x":0.3,"x2":3.9,"y":0.605}]},"mark":{"type":"rule","color":"#2040e0","strokeWidth":1,"strokeDash":[5,3]},"encoding":{"x":{"field":"x","type":"quantitative","scale":{"type":"log","domain":[0.3,100],"nice":false}},"x2":{"field":"x2"},"y":{"field":"y","type":"quantitative","scale":{"type":"log","domain":[0.29,2],"nice":false}}}},
{"data":{"values":[{"x":3.9,"y":0.29,"y2":0.605}]},"mark":{"type":"rule","color":"#2040e0","strokeWidth":1,"strokeDash":[5,3]},"encoding":{"x":{"field":"x","type":"quantitative","scale":{"type":"log","domain":[0.3,100],"nice":false}},"y":{"field":"y","type":"quantitative","scale":{"type":"log","domain":[0.29,2],"nice":false}},"y2":{"field":"y2"}}},
{"data":{"name":"ddat"},"mark":{"type":"line","color":"black","strokeWidth":1},"encoding":{"x":{"field":"tau","type":"quantitative","scale":{"type":"log","domain":[0.3,100],"nice":false}},"y":{"field":"ad","type":"quantitative","scale":{"type":"log","domain":[0.29,2],"nice":false}}}},
{"data":{"name":"ddat"},"mark":{"type":"point","filled":true,"fill":{"gradient":"radial","x1":0.35,"y1":0.35,"r1":0,"x2":0.5,"y2":0.5,"r2":0.55,"stops":[{"offset":0,"color":"#ffe0e0"},{"offset":0.35,"color":"#ff2a2a"},{"offset":1,"color":"#d00000"}]},"stroke":"#b00000","strokeWidth":0.4,"size":34,"opacity":1},"encoding":{"x":{"field":"tau","type":"quantitative","scale":{"type":"log","domain":[0.3,100],"nice":false}},"y":{"field":"ad","type":"quantitative","scale":{"type":"log","domain":[0.29,2],"nice":false}}}},
{"data":{"values":[{"x":0.528,"y":1.81,"s":"White-noise"},{"x":0.528,"y":1.47,"s":"dominated region"},{"x":10,"y":1.81,"s":"Drift dominated"},{"x":10,"y":1.47,"s":"region"}]},"mark":{"type":"text","align":"left","baseline":"middle","fontSize":14},"encoding":{"x":{"field":"x","type":"quantitative","scale":{"type":"log","domain":[0.3,100],"nice":false}},"y":{"field":"y","type":"quantitative","scale":{"type":"log","domain":[0.29,2],"nice":false}},"text":{"field":"s"}}},
{"data":{"values":[{"x":2.93,"x2":7.0,"y":1.6}]},"mark":{"type":"rule","color":"black","strokeWidth":2,"strokeDash":[2,3]},"encoding":{"x":{"field":"x","type":"quantitative","scale":{"type":"log","domain":[0.3,100],"nice":false}},"x2":{"field":"x2"},"y":{"field":"y","type":"quantitative","scale":{"type":"log","domain":[0.29,2],"nice":false}}}},
{"data":{"values":[{"x":7.3,"y":1.6}]},"mark":{"type":"point","shape":"M-1,-0.8L1,0L-1,0.8L-0.5,0Z","filled":true,"color":"black","size":110,"opacity":1},"encoding":{"x":{"field":"x","type":"quantitative","scale":{"type":"log","domain":[0.3,100],"nice":false}},"y":{"field":"y","type":"quantitative","scale":{"type":"log","domain":[0.29,2],"nice":false}}}},
{"data":{"values":[{"x":2.18,"y":0.503,"s":"(3.9 s, 605 ppbv)"}]},"mark":{"type":"text","align":"left","baseline":"middle","fontSize":14,"color":"#2030d8"},"encoding":{"x":{"field":"x","type":"quantitative","scale":{"type":"log","domain":[0.3,100],"nice":false}},"y":{"field":"y","type":"quantitative","scale":{"type":"log","domain":[0.29,2],"nice":false}},"text":{"field":"s"}}},
{"data":{"values":[{"x":5.05,"y":0.345,"s":"Calculated by the AllanVar.opx from OriginPro 2018b"}]},"mark":{"type":"text","align":"left","baseline":"middle","fontSize":5,"color":"black"},"encoding":{"x":{"field":"x","type":"quantitative","scale":{"type":"log","domain":[0.3,100],"nice":false}},"y":{"field":"y","type":"quantitative","scale":{"type":"log","domain":[0.29,2],"nice":false}},"text":{"field":"s"}}},
{"data":{"values":[{"x":5.05,"y":0.32,"s":"(https://www.originlab.com/fileExchange/details.aspx?fid=231)"}]},"mark":{"type":"text","align":"left","baseline":"middle","fontSize":5,"font":"Liberation Sans","color":"#2020d0"},"encoding":{"x":{"field":"x","type":"quantitative","scale":{"type":"log","domain":[0.3,100],"nice":false}},"y":{"field":"y","type":"quantitative","scale":{"type":"log","domain":[0.29,2],"nice":false}},"text":{"field":"s"}}},
{"data":{"values":[{"x":0.1097,"y":2.025,"s":"d"}]},"mark":{"type":"text","align":"left","baseline":"middle","fontSize":17,"fontWeight":"bold"},"encoding":{"x":{"field":"x","type":"quantitative","scale":{"type":"log","domain":[0.3,100],"nice":false}},"y":{"field":"y","type":"quantitative","scale":{"type":"log","domain":[0.29,2],"nice":false}},"text":{"field":"s"}}}
]},
{"data":{"values":[{"mx":1,"my":1}]},"mark":{"type":"point","opacity":0},"encoding":{"x":{"field":"mx","type":"quantitative","scale":{"type":"log","domain":[0.3,100],"nice":false},"axis":{"orient":"bottom","values":[0.4,0.5,0.6,0.7,0.8,0.9,2,3,4,5,6,7,8,9,20,30,40,50,60,70,80,90],"labels":false,"domain":false,"tickSize":2,"title":null}},"y":{"field":"my","type":"quantitative","scale":{"type":"log","domain":[0.29,2],"nice":false},"axis":{"orient":"left","values":[0.3,0.4,0.5,0.6,0.7,0.8,0.9],"labels":false,"domain":false,"tickSize":2,"title":null}}}}
],
"resolve":{"axis":{"x":"independent","y":"independent"}}}
],"spacing":59,"bounds":"flush"}
],"spacing":4},
{"hconcat":[
{"width":20,"height":150,"data":{"values":[{"t":0}]},"mark":{"type":"point","opacity":0},"encoding":{},"view":{"stroke":null}},
{"width":554,"height":150,
"layer":[
{"layer":[
{"data":{"name":"eblue"},"mark":{"type":"line","color":"#0000ff","strokeWidth":1.4},"encoding":{"x":{"field":"t","type":"quantitative","scale":{"domain":[0,180],"nice":false},"axis":{"title":"Time (s)","values":[0,20,40,60,80,100,120,140,160,180],"titlePadding":0,"labelPadding":1,"titleFontSize":12,"titleFontWeight":"normal"}},"y":{"field":"v","type":"quantitative","scale":{"domain":[0.374,0.624],"nice":false,"zero":false},"axis":{"title":"PA signal (V)","values":[0.4,0.45,0.5,0.55,0.6],"format":".2f","titleFontSize":13,"titlePadding":5,"titleFontWeight":"normal"}}}},
{"data":{"name":"ered"},"mark":{"type":"line","color":"#ff0000","strokeWidth":1.3},"encoding":{"x":{"field":"t","type":"quantitative"},"y":{"field":"v","type":"quantitative"}}},
{"data":{"values":[{"x":0,"x2":97,"y":0.5365},{"x":97,"x2":177.5,"y":0.465}]},"mark":{"type":"rule","color":"black","strokeWidth":3.5,"strokeDash":[12,13]},"encoding":{"x":{"field":"x","type":"quantitative"},"x2":{"field":"x2"},"y":{"field":"y","type":"quantitative"}}},
{"data":{"values":[{"x":38.1,"y":0.588,"s":"5 ppmv"},{"x":144.6,"y":0.4166,"s":"1 ppmv"}]},"mark":{"type":"text","align":"center","baseline":"middle","fontSize":13},"encoding":{"x":{"field":"x","type":"quantitative"},"y":{"field":"y","type":"quantitative"},"text":{"field":"s"}}},
{"data":{"values":[{"x":-20.1,"y":0.619,"s":"e"}]},"mark":{"type":"text","align":"left","baseline":"middle","fontSize":17,"fontWeight":"bold"},"encoding":{"x":{"field":"x","type":"quantitative"},"y":{"field":"y","type":"quantitative"},"text":{"field":"s"}}}
]},
{"data":{"values":[{"mx":50,"my":0.5}]},"mark":{"type":"point","opacity":0},"encoding":{"x":{"field":"mx","type":"quantitative","scale":{"domain":[0,180],"nice":false},"axis":{"orient":"bottom","values":[10,30,50,70,90,110,130,150,170],"labels":false,"domain":false,"tickSize":2,"title":null}},"y":{"field":"my","type":"quantitative","scale":{"domain":[0.374,0.624],"nice":false,"zero":false},"axis":{"orient":"left","values":[0.425,0.475,0.525,0.575],"labels":false,"domain":false,"tickSize":2,"title":null}}}}
],
"resolve":{"axis":{"x":"independent","y":"independent"}}}
],"spacing":0,"bounds":"flush"}
],
"spacing":0
}
